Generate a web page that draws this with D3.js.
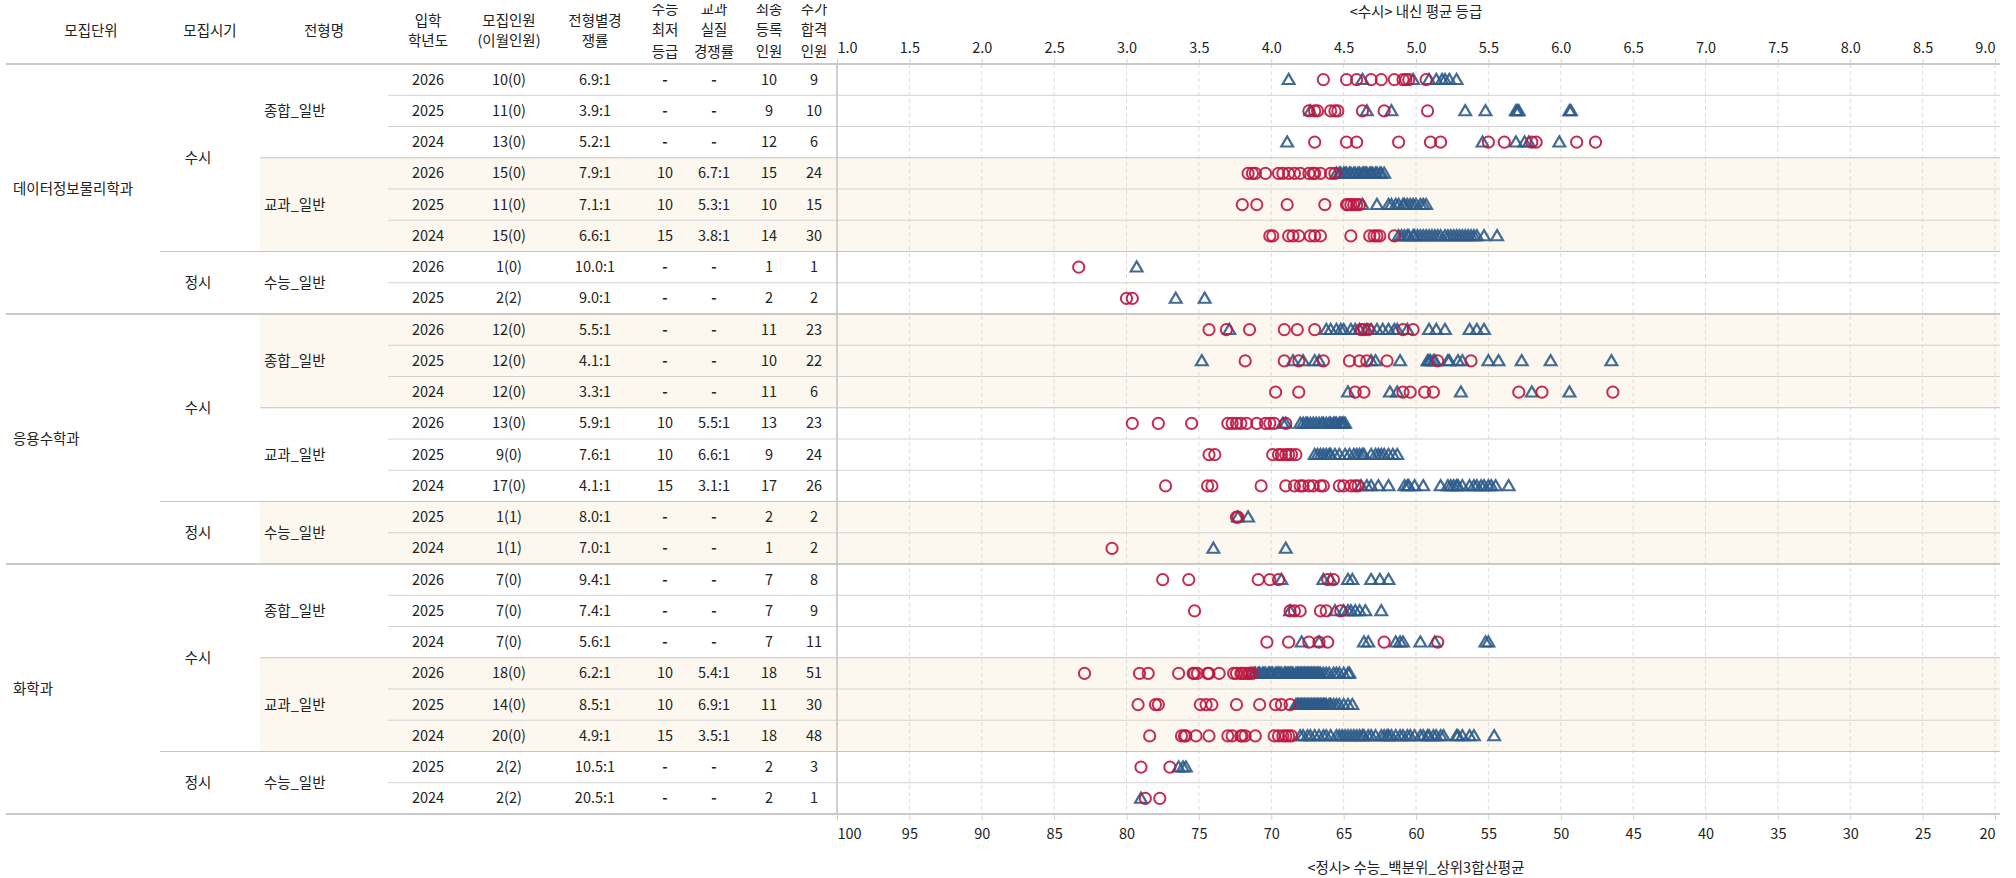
<!DOCTYPE html>
<html>
<head>
<meta charset="utf-8">
<script src="https://cdn.jsdelivr.net/npm/d3@7"></script>
<style>
  body { margin: 0; background: #fff; }
  svg { font-family: "Noto Sans CJK KR", "Noto Sans", sans-serif; }
</style>
</head>
<body>
<svg id="chart" width="2016" height="878"></svg>
<script>
// ---- table data ----
const rowUnit = ["데이터정보물리학과","데이터정보물리학과","데이터정보물리학과","데이터정보물리학과","데이터정보물리학과","데이터정보물리학과","데이터정보물리학과","데이터정보물리학과",
  "응용수학과","응용수학과","응용수학과","응용수학과","응용수학과","응용수학과","응용수학과","응용수학과",
  "화학과","화학과","화학과","화학과","화학과","화학과","화학과","화학과"];
const rowTime = ["수시","수시","수시","수시","수시","수시","정시","정시",
  "수시","수시","수시","수시","수시","수시","정시","정시",
  "수시","수시","수시","수시","수시","수시","정시","정시"];
const rowType = ["종합_일반","종합_일반","종합_일반","교과_일반","교과_일반","교과_일반","수능_일반","수능_일반",
  "종합_일반","종합_일반","종합_일반","교과_일반","교과_일반","교과_일반","수능_일반","수능_일반",
  "종합_일반","종합_일반","종합_일반","교과_일반","교과_일반","교과_일반","수능_일반","수능_일반"];
const years = [2026,2025,2024,2026,2025,2024,2026,2025, 2026,2025,2024,2026,2025,2024,2025,2024, 2026,2025,2024,2026,2025,2024,2025,2024];
const quota = ["10(0)","11(0)","13(0)","15(0)","11(0)","15(0)","1(0)","2(2)", "12(0)","12(0)","12(0)","13(0)","9(0)","17(0)","1(1)","1(1)", "7(0)","7(0)","7(0)","18(0)","14(0)","20(0)","2(2)","2(2)"];
const compRate = ["6.9:1","3.9:1","5.2:1","7.9:1","7.1:1","6.6:1","10.0:1","9.0:1", "5.5:1","4.1:1","3.3:1","5.9:1","7.6:1","4.1:1","8.0:1","7.0:1", "9.4:1","7.4:1","5.6:1","6.2:1","8.5:1","4.9:1","10.5:1","20.5:1"];
const minGrade = ["-","-","-","10","10","15","-","-", "-","-","-","10","10","15","-","-", "-","-","-","10","10","15","-","-"];
const realRate = ["-","-","-","6.7:1","5.3:1","3.8:1","-","-", "-","-","-","5.5:1","6.6:1","3.1:1","-","-", "-","-","-","5.4:1","6.9:1","3.5:1","-","-"];
const regCount = [10,9,12,15,10,14,1,2, 11,10,11,13,9,17,2,1, 7,7,7,18,11,18,2,2];
const addCount = [9,10,6,24,15,30,1,2, 23,22,6,23,24,26,2,2, 8,9,11,51,30,48,3,1];

// ---- axis ticks ----
const gradeTicks = [1.0,1.5,2.0,2.5,3.0,3.5,4.0,4.5,5.0,5.5,6.0,6.5,7.0,7.5,8.0,8.5,9.0];
const pctTicks = [100,95,90,85,80,75,70,65,60,55,50,45,40,35,30,25,20];

// ---- scores: 수시 rows = 내신 등급, 정시 rows = 백분위 ----
// circles: 최종등록
const regScores = [
  [4.36,4.52,4.59,4.69,4.76,4.85,4.91,4.93,4.95,5.07],
  [4.26,4.30,4.32,4.41,4.44,4.46,4.63,4.78,5.08],
  [4.30,4.52,4.59,4.88,5.10,5.17,5.50,5.61,5.80,5.83,6.11,6.24],
  [3.84,3.87,3.89,3.96,4.05,4.08,4.12,4.16,4.20,4.26,4.29,4.30,4.34,4.41,4.44],
  [3.80,3.90,4.11,4.37,4.52,4.53,4.55,4.57,4.59,4.61],
  [3.99,4.01,4.12,4.15,4.19,4.27,4.30,4.34,4.55,4.68,4.71,4.73,4.75,4.85],
  [83.3],
  [80.0,79.6],
  [3.57,3.69,3.85,4.09,4.18,4.30,4.62,4.64,4.67,4.91,4.98],
  [3.82,4.09,4.19,4.36,4.54,4.61,4.66,4.80,5.15,5.38],
  [4.03,4.19,4.58,4.64,4.91,4.96,5.06,5.12,5.71,5.87,6.36],
  [3.04,3.22,3.45,3.70,3.73,3.76,3.79,3.83,3.90,3.96,3.99,4.02,4.10],
  [3.57,3.61,4.01,4.05,4.07,4.10,4.12,4.14,4.17],
  [3.27,3.56,3.59,3.93,4.10,4.16,4.20,4.22,4.26,4.29,4.34,4.36,4.47,4.50,4.55,4.58,4.60],
  [72.4,72.3],
  [81.0],
  [3.25,3.43,3.91,3.99,4.05,4.39,4.43],
  [3.47,4.13,4.16,4.20,4.34,4.38,4.48],
  [3.97,4.12,4.26,4.33,4.39,4.78,5.15],
  [2.71,3.09,3.15,3.36,3.46,3.47,3.49,3.56,3.57,3.64,3.74,3.76,3.79,3.80,3.82,3.84,3.85,3.87],
  [3.08,3.20,3.22,3.51,3.55,3.59,3.76,3.92,4.03,4.07,4.13],
  [3.16,3.38,3.40,3.41,3.48,3.57,3.70,3.73,3.79,3.80,3.82,3.89,4.02,4.05,4.08,4.10,4.12,4.14],
  [79.0,77.0],
  [78.7,77.7]
];
// triangles: 추가합격
const addScores = [
  [4.12,4.63,4.98,5.09,5.14,5.18,5.20,5.23,5.28],
  [4.27,4.66,4.83,5.34,5.48,5.69,5.70,5.71,6.06,6.07],
  [4.11,5.46,5.69,5.75,5.78,5.99],
  [4.45,4.47,4.48,4.50,4.51,4.52,4.54,4.55,4.57,4.58,4.60,4.61,4.63,4.64,4.65,4.66,4.68,4.69,4.70,4.72,4.73,4.75,4.76,4.78],
  [4.63,4.73,4.81,4.83,4.86,4.88,4.91,4.92,4.94,4.96,4.98,5.00,5.03,5.05,5.07],
  [4.88,4.90,4.92,4.94,4.95,4.98,4.99,5.01,5.03,5.05,5.07,5.09,5.11,5.13,5.15,5.17,5.20,5.22,5.24,5.26,5.28,5.30,5.32,5.34,5.36,5.38,5.40,5.42,5.47,5.56],
  [79.3],
  [76.6,74.6],
  [3.71,4.38,4.41,4.45,4.48,4.50,4.55,4.58,4.61,4.66,4.69,4.73,4.77,4.81,4.85,4.87,4.94,5.09,5.14,5.20,5.37,5.42,5.47],
  [3.52,4.15,4.22,4.30,4.33,4.69,4.72,4.89,5.08,5.09,5.10,5.12,5.13,5.22,5.23,5.29,5.32,5.50,5.57,5.73,5.93,6.35],
  [4.53,4.82,4.87,5.31,5.80,6.06],
  [4.08,4.10,4.20,4.22,4.24,4.25,4.27,4.29,4.31,4.33,4.35,4.36,4.38,4.40,4.41,4.43,4.44,4.45,4.47,4.48,4.49,4.50,4.51],
  [4.30,4.32,4.34,4.36,4.38,4.40,4.41,4.44,4.47,4.51,4.54,4.57,4.59,4.61,4.63,4.64,4.69,4.72,4.74,4.76,4.78,4.81,4.84,4.87],
  [4.62,4.66,4.69,4.74,4.81,4.92,4.94,4.95,4.99,5.05,5.17,5.22,5.24,5.26,5.28,5.29,5.32,5.37,5.40,5.42,5.45,5.47,5.50,5.52,5.55,5.64],
  [72.3,71.6],
  [74.0,69.0],
  [4.07,4.36,4.41,4.53,4.56,4.69,4.75,4.81],
  [4.13,4.44,4.50,4.53,4.55,4.58,4.61,4.65,4.76],
  [4.21,4.33,4.64,4.67,4.86,4.89,4.91,5.03,5.13,5.48,5.50],
  [3.86,3.88,3.89,3.91,3.92,3.94,3.95,3.96,3.98,3.99,4.00,4.01,4.03,4.04,4.05,4.06,4.07,4.09,4.10,4.11,4.12,4.13,4.14,4.15,4.17,4.18,4.19,4.20,4.21,4.22,4.23,4.24,4.25,4.26,4.27,4.28,4.29,4.30,4.31,4.32,4.33,4.34,4.36,4.38,4.40,4.43,4.45,4.47,4.50,4.54,4.53],
  [4.17,4.18,4.19,4.20,4.21,4.22,4.23,4.24,4.25,4.26,4.27,4.28,4.29,4.30,4.31,4.32,4.33,4.34,4.35,4.36,4.37,4.38,4.40,4.41,4.43,4.45,4.47,4.50,4.53,4.56],
  [4.20,4.22,4.25,4.27,4.30,4.33,4.36,4.38,4.41,4.45,4.47,4.49,4.51,4.53,4.55,4.57,4.59,4.61,4.63,4.64,4.67,4.69,4.72,4.76,4.78,4.80,4.81,4.83,4.86,4.89,4.91,4.94,4.96,4.99,5.03,5.05,5.08,5.09,5.12,5.14,5.17,5.19,5.28,5.29,5.32,5.37,5.40,5.54],
  [76.4,76.1,75.9],
  [79.0]
];

// ---- layout ----
const svg = d3.select("#chart");
const plotL = 837, plotR = 1995, plotT = 64, plotB = 814;
const fs = 14.5, ink = "#222";
const red = "#be1640", blue = "#2d5b8b";

const x = d3.scaleLinear().domain([1, 9]).range([plotL, plotR]);
const xPct = d3.scaleLinear().domain([100, 20]).range([plotL, plotR]);
const y = d3.scaleBand().domain(d3.range(years.length)).range([plotT, plotB]);
const bw = y.bandwidth();
const xFor = i => rowTime[i] === "정시" ? xPct : x;

function runs(keyFn) {
  const out = [];
  years.forEach((_, i) => {
    const k = keyFn(i);
    const last = out[out.length - 1];
    if (last && last.key === k) last.end = i;
    else out.push({ key: k, start: i, end: i });
  });
  return out;
}
const unitRuns = runs(i => rowUnit[i]);
const timeRuns = runs(i => rowUnit[i] + rowTime[i]);
const typeRuns = runs(i => rowUnit[i] + rowTime[i] + rowType[i]);
const mid = g => (y(g.start) + y(g.end) + bw) / 2;

// cream band for every second 전형 group
svg.append("g").selectAll("rect")
  .data(typeRuns.filter((g, k) => k % 2 === 1))
  .join("rect")
  .attr("x", 260).attr("width", 2000 - 260)
  .attr("y", g => y(g.start)).attr("height", g => y(g.end) + bw - y(g.start))
  .attr("fill", "#fcf8ef");

// vertical grid
svg.append("g").selectAll("line")
  .data(gradeTicks)
  .join("line")
  .attr("x1", d => x(d)).attr("x2", d => x(d))
  .attr("y1", plotT).attr("y2", plotB)
  .attr("stroke", "#dcdcdc").attr("stroke-dasharray", "4,3");

// row separators
const seps = d3.range(1, years.length).map(i => {
  if (rowUnit[i] !== rowUnit[i - 1]) return { i, x0: 6, c: "#b8b8b8", w: 1.5 };
  if (rowTime[i] !== rowTime[i - 1]) return { i, x0: 160, c: "#c4c4c4", w: 1.2 };
  if (rowType[i] !== rowType[i - 1]) return { i, x0: 260, c: "#c4c4c4", w: 1.2 };
  return { i, x0: 388, c: "#d2d2d2", w: 1 };
});
svg.append("g").selectAll("line")
  .data(seps)
  .join("line")
  .attr("x1", d => d.x0).attr("x2", 2000)
  .attr("y1", d => y(d.i)).attr("y2", d => y(d.i))
  .attr("stroke", d => d.c).attr("stroke-width", d => d.w);

svg.append("line").attr("x1", 6).attr("x2", 2000).attr("y1", plotT).attr("y2", plotT)
  .attr("stroke", "#b8b8b8").attr("stroke-width", 1.5);
svg.append("line").attr("x1", 6).attr("x2", 2000).attr("y1", plotB).attr("y2", plotB)
  .attr("stroke", "#b8b8b8").attr("stroke-width", 1.5);
svg.append("line").attr("x1", plotL).attr("x2", plotL).attr("y1", plotT).attr("y2", plotB)
  .attr("stroke", "#c4c4c4").attr("stroke-width", 1.5);

// ---- header ----
const headers = [
  { x: 91, lines: ["모집단위"] },
  { x: 210, lines: ["모집시기"] },
  { x: 324, lines: ["전형명"] },
  { x: 428, lines: ["입학", "학년도"] },
  { x: 509, lines: ["모집인원", "(이월인원)"] },
  { x: 595, lines: ["전형별경", "쟁률"] },
  { x: 665, lines: ["수능", "최저", "등급"] },
  { x: 714, lines: ["교과", "실질", "경쟁률"] },
  { x: 769, lines: ["최종", "등록", "인원"] },
  { x: 814, lines: ["추가", "합격", "인원"] }
];
const lineYs = { 1: [31], 2: [20.5, 41], 3: [8.5, 30, 51.5] };
svg.append("defs").append("clipPath").attr("id", "hclip")
  .append("rect").attr("x", 0).attr("y", 4).attr("width", 900).attr("height", 60);
const head = svg.append("g").attr("clip-path", "url(#hclip)");
headers.forEach(h => {
  h.lines.forEach((t, k) => {
    head.append("text").attr("x", h.x).attr("y", lineYs[h.lines.length][k])
      .attr("dy", "0.35em").attr("text-anchor", "middle")
      .attr("font-size", fs).attr("fill", ink).text(t);
  });
});

// ---- group labels ----
svg.append("g").selectAll("text").data(unitRuns).join("text")
  .attr("x", 13).attr("y", mid).attr("dy", "0.35em")
  .attr("font-size", fs).attr("fill", ink).text(g => g.key);
svg.append("g").selectAll("text").data(timeRuns).join("text")
  .attr("x", 198).attr("y", mid).attr("dy", "0.35em").attr("text-anchor", "middle")
  .attr("font-size", fs).attr("fill", ink).text(g => rowTime[g.start]);
svg.append("g").selectAll("text").data(typeRuns).join("text")
  .attr("x", 264).attr("y", mid).attr("dy", "0.35em")
  .attr("font-size", fs).attr("fill", ink).text(g => rowType[g.start]);

// ---- cell columns ----
const cols = [
  { x: 428, v: years },
  { x: 509, v: quota },
  { x: 595, v: compRate },
  { x: 665, v: minGrade },
  { x: 714, v: realRate },
  { x: 769, v: regCount },
  { x: 814, v: addCount }
];
cols.forEach(c => {
  svg.append("g").selectAll("text").data(c.v).join("text")
    .attr("x", c.x).attr("y", (d, i) => y(i) + bw / 2).attr("dy", "0.35em")
    .attr("text-anchor", "middle").attr("font-size", fs).attr("fill", ink)
    .attr("font-weight", d => d === "-" ? 700 : 400)
    .text(d => d);
});

// ---- axes ----
function styleAxis(g) {
  g.select(".domain").remove();
  g.selectAll(".tick line").attr("stroke", "#d0d0d0");
  g.selectAll(".tick text").attr("font-size", fs).attr("fill", ink)
    .attr("font-family", '"Noto Sans CJK KR", "Noto Sans", sans-serif');
  const t = g.selectAll(".tick text").nodes();
  d3.select(t[0]).attr("text-anchor", "start");
  d3.select(t[t.length - 1]).attr("text-anchor", "end");
}
svg.append("g").attr("transform", `translate(0,${plotT})`)
  .call(d3.axisTop(x).tickValues(gradeTicks).tickFormat(d3.format(".1f")).tickSize(5).tickPadding(6))
  .call(styleAxis);
svg.append("g").attr("transform", `translate(0,${plotB})`)
  .call(d3.axisBottom(xPct).tickValues(pctTicks).tickFormat(d3.format("d")).tickSize(6).tickPadding(9))
  .call(styleAxis);

svg.append("text").attr("x", (plotL + plotR) / 2).attr("y", 12).attr("dy", "0.35em")
  .attr("text-anchor", "middle").attr("font-size", fs).attr("fill", ink).text("<수시> 내신 평균 등급");
svg.append("text").attr("x", (plotL + plotR) / 2).attr("y", 868).attr("dy", "0.35em")
  .attr("text-anchor", "middle").attr("font-size", fs).attr("fill", ink).text("<정시> 수능_백분위_상위3합산평균");

// ---- marks ----
const triPts = addScores.flatMap((arr, i) => arr.map(v => ({ i, v })));
const cirPts = regScores.flatMap((arr, i) => arr.map(v => ({ i, v })));
const tri = d3.symbol(d3.symbolTriangle, 60);

svg.append("g").selectAll("path").data(triPts).join("path")
  .attr("d", tri)
  .attr("transform", d => `translate(${xFor(d.i)(d.v)},${y(d.i) + bw / 2 + 1})`)
  .attr("fill", "none").attr("stroke", blue).attr("stroke-width", 2.2)
  .attr("stroke-opacity", 0.9);

svg.append("g").selectAll("circle").data(cirPts).join("circle")
  .attr("cx", d => xFor(d.i)(d.v)).attr("cy", d => y(d.i) + bw / 2)
  .attr("r", 5.6)
  .attr("fill", "none").attr("stroke", red).attr("stroke-width", 2)
  .attr("stroke-opacity", 0.9);
</script>
</body>
</html>
